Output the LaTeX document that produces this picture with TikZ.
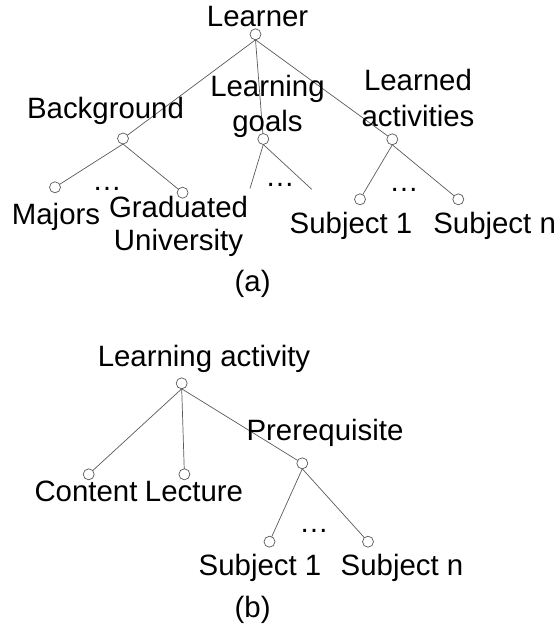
\documentclass[tikz,border=0pt]{standalone}
\usepackage{fontspec}
\setmainfont{Liberation Sans}
\definecolor{edgegray}{HTML}{5A5A5A}
\begin{document}
\begin{tikzpicture}[x=1pt,y=-1pt,
  every node/.style={font=\fontsize{29.4}{35.3}\selectfont, inner sep=0pt, outer sep=0pt},
  vert/.style={circle, draw=edgegray, fill=white, minimum size=11pt, line width=0.7pt},
  edge/.style={draw=edgegray, line width=0.7pt},
  lbl/.style={anchor=base, text=black},
  twoline/.style={align=center, anchor=north, text=black},
  dots/.style={anchor=base, text=black}]
\useasboundingbox (0,0) rectangle (556,635);

% ---------- (a) learner model ----------
\node[vert] (learner) at (255.5,34.3) {};
\node[vert] (bg)      at (123,138.5) {};
\node[vert] (goals)   at (263.3,139) {};
\node[vert] (act)     at (392.3,139.3) {};
\node[vert] (major)   at (55,187.3) {};
\node[vert] (grad)    at (182.6,192.7) {};
\coordinate (goalL) at (250,188.5);
\coordinate (goalR) at (311.7,189.3);
\node[vert] (actS1)   at (360,199.3) {};
\node[vert] (actSn)   at (458.3,199.3) {};

\draw[edge] (learner.south) -- (bg);
\draw[edge] (learner.south) -- (goals);
\draw[edge] (learner.south) -- (act);
\draw[edge] (bg.south) -- (major);
\draw[edge] (bg.south) -- (grad);
\draw[edge] (goals.south) -- (goalL);
\draw[edge] (goals.south) -- (goalR);
\draw[edge] (act.south) -- (actS1);
\draw[edge] (act.south) -- (actSn);

\node[lbl] (tLearner) at (257.6,26) {Learner};
\node[lbl] (tBg) at (105.5,118.3) {Background};
\node[twoline] (tGoals) at (267.5,75) {Learning\\goals};
\node[twoline] (tAct) at (418,69.5) {Learned\\activities};
\node[lbl] (tMajor) at (56,224) {Majors};
\node[twoline] (tGrad) at (178.5,196) {Graduated\\[-2pt]University};
\node[lbl] (tS1) at (351,233) {Subject 1};
\node[lbl] (tSn) at (494.6,233) {Subject n};
\node[dots] (dBg) at (107,190.5) {…};
\node[dots] (dGoals) at (280,186.5) {…};
\node[dots] (dAct) at (404,191) {…};
\node[lbl] (capA) at (252.6,291) {(a)};

% ---------- (b) learning activity ----------
\node[vert] (la)      at (181.7,383.3) {};
\node[vert] (content) at (88.7,474.3) {};
\node[vert] (lecture) at (184.4,474.3) {};
\node[vert] (prereq)  at (302.3,463.3) {};
\node[vert] (preS1)   at (269.5,541.7) {};
\node[vert] (preSn)   at (368,541.7) {};

\draw[edge] (la.south) -- (content);
\draw[edge] (la.south) -- (lecture);
\draw[edge] (la.south) -- (prereq);
\draw[edge] (prereq.south) -- (preS1);
\draw[edge] (prereq.south) -- (preSn);

\node[lbl] (tLa) at (204,366.7) {Learning activity};
\node[lbl] (tPre) at (325,440) {Prerequisite};
\node[lbl] (tContent) at (86,501.7) {Content};
\node[lbl] (tLecture) at (194,501.7) {Lecture};
\node[lbl] (tPS1) at (260,575) {Subject 1};
\node[lbl] (tPSn) at (402,575) {Subject n};
\node[dots] (dPre) at (314,532) {…};
\node[lbl] (capB) at (252.6,617) {(b)};
\end{tikzpicture}
\end{document}
